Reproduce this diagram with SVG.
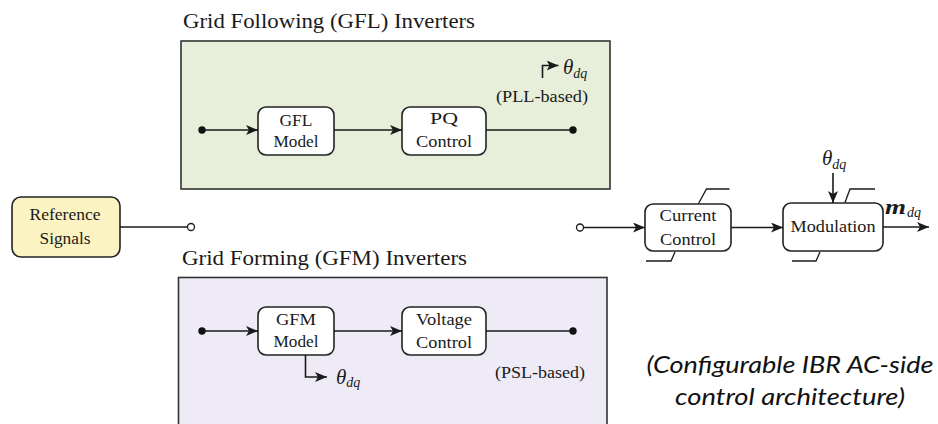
<svg xmlns="http://www.w3.org/2000/svg" width="938" height="424" viewBox="0 0 938 424">
  <style>
    .serif { font-family: "Liberation Serif", "Times New Roman", serif; fill: #1a1a1a; }
    .title { font-size: 21px; }
    .lbl { font-size: 17.5px; text-anchor: middle; }
    .note { font-size: 17px; }
    .math { font-family: "Liberation Serif", "Times New Roman", serif; font-style: italic; fill: #1a1a1a; font-size: 21px; }
    .sub { font-size: 14px; }
    .panel { stroke: #333333; stroke-width: 1.6; }
    .block { fill: #ffffff; stroke: #222222; stroke-width: 1.6; }
    .wire { fill: none; stroke: #1a1a1a; stroke-width: 1.6; }
    .thin { fill: none; stroke: #1a1a1a; stroke-width: 1.3; }
    .dot { fill: #111111; }
    .port { fill: #ffffff; stroke: #1a1a1a; stroke-width: 1.3; }
    .caption { font-family: Lato, "Open Sans", sans-serif; font-style: italic; font-size: 24px; fill: #111111; text-anchor: middle; }
  </style>
  <defs>
    <marker id="arrow" markerUnits="userSpaceOnUse" viewBox="0 0 12 10" refX="12" refY="5" markerWidth="12" markerHeight="10" orient="auto">
      <path d="M0,0 L12,5 L0,10 L3,5 Z" fill="#1a1a1a"/>
    </marker>
  </defs>

  <rect width="938" height="424" fill="#ffffff"/>

  <!-- Grid following panel -->
  <g id="gfl-panel">
    <text class="serif title" x="183" y="28" textLength="292" lengthAdjust="spacingAndGlyphs">Grid Following (GFL) Inverters</text>
    <rect class="panel" x="181" y="41" width="429" height="148" fill="#e7efda"/>
    <text class="serif note" x="496" y="102" textLength="92" lengthAdjust="spacingAndGlyphs">(PLL-based)</text>
  </g>

  <!-- Grid forming panel -->
  <g id="gfm-panel">
    <text class="serif title" x="182" y="265" textLength="285" lengthAdjust="spacingAndGlyphs">Grid Forming (GFM) Inverters</text>
    <rect class="panel" x="178.5" y="277.5" width="428.5" height="160" fill="#efebf6"/>
    <text class="serif note" x="495" y="378" textLength="90" lengthAdjust="spacingAndGlyphs">(PSL-based)</text>
  </g>

  <g id="reference-signals">
    <rect x="12" y="197" width="108" height="60" rx="9" fill="#fcf3c2" stroke="#222222" stroke-width="1.6"/>
    <text class="serif lbl" x="65" y="219.5" textLength="71" lengthAdjust="spacingAndGlyphs">Reference</text>
    <text class="serif lbl" x="65" y="243.5" textLength="51" lengthAdjust="spacingAndGlyphs">Signals</text>
  </g>

  <g id="gfl-model">
    <rect class="block" x="258" y="107" width="76" height="48" rx="8"/>
    <text class="serif lbl" x="296" y="125.5" textLength="33" lengthAdjust="spacingAndGlyphs">GFL</text>
    <text class="serif lbl" x="296" y="147" textLength="45" lengthAdjust="spacingAndGlyphs">Model</text>
  </g>

  <g id="pq-control">
    <rect class="block" x="402" y="107" width="84" height="48" rx="8"/>
    <text class="serif lbl" x="444" y="124" textLength="28" lengthAdjust="spacingAndGlyphs">PQ</text>
    <text class="serif lbl" x="444" y="147" textLength="56" lengthAdjust="spacingAndGlyphs">Control</text>
  </g>

  <g id="gfm-model">
    <rect class="block" x="258" y="307" width="76" height="48" rx="8"/>
    <text class="serif lbl" x="296" y="325" textLength="40" lengthAdjust="spacingAndGlyphs">GFM</text>
    <text class="serif lbl" x="296" y="346.5" textLength="45" lengthAdjust="spacingAndGlyphs">Model</text>
  </g>

  <g id="voltage-control">
    <rect class="block" x="402" y="307" width="84" height="48" rx="8"/>
    <text class="serif lbl" x="444" y="324.5" textLength="56" lengthAdjust="spacingAndGlyphs">Voltage</text>
    <text class="serif lbl" x="444" y="347.5" textLength="56" lengthAdjust="spacingAndGlyphs">Control</text>
  </g>

  <g id="current-control">
    <rect class="block" x="645" y="204" width="86" height="47" rx="8"/>
    <text class="serif lbl" x="688" y="221" textLength="57" lengthAdjust="spacingAndGlyphs">Current</text>
    <text class="serif lbl" x="688" y="244.5" textLength="56" lengthAdjust="spacingAndGlyphs">Control</text>
    <path class="thin" d="M698.5,203.5 L706.5,189 L729.5,189"/>
    <path class="thin" d="M646,261 L671,261 L675,252"/>
  </g>

  <g id="modulation">
    <rect class="block" x="783" y="203" width="100" height="48" rx="8"/>
    <text class="serif lbl" x="833" y="232" textLength="85" lengthAdjust="spacingAndGlyphs">Modulation</text>
    <path class="thin" d="M845,202.5 L850,189 L875,189"/>
    <path class="thin" d="M792,261 L816,261 L820,252"/>
  </g>

  <!-- signal symbols -->
  <g id="theta-gfl">
    <text class="math" x="563" y="74">θ<tspan class="sub" dy="3.5">dq</tspan></text>
  </g>
  <g id="theta-gfm">
    <text class="math" x="336" y="383.5">θ<tspan class="sub" dy="3.5">dq</tspan></text>
  </g>
  <g id="theta-mod">
    <text class="math" x="822" y="165">θ<tspan class="sub" dy="3.5">dq</tspan></text>
  </g>
  <g id="m-dq">
    <text class="math" x="885" y="213.5" font-weight="bold" font-size="21" textLength="21" lengthAdjust="spacingAndGlyphs">m</text>
    <text class="math sub" x="907" y="217">dq</text>
  </g>

  <g id="connectors">
    <!-- GFL chain -->
    <path class="wire" d="M202,130 L258,130" marker-end="url(#arrow)"/>
    <path class="wire" d="M334,130 L402,130" marker-end="url(#arrow)"/>
    <path class="wire" d="M486,130 L573,130"/>
    <path class="wire" d="M542.5,78 L542.5,65.5 L558.5,65.5" marker-end="url(#arrow)"/>
    <circle class="dot" cx="202" cy="130" r="3.7"/>
    <circle class="dot" cx="573" cy="130" r="3.7"/>

    <!-- GFM chain -->
    <path class="wire" d="M202,331 L258,331" marker-end="url(#arrow)"/>
    <path class="wire" d="M334,331 L402,331" marker-end="url(#arrow)"/>
    <path class="wire" d="M486,331 L573,331"/>
    <path class="wire" d="M305.5,355 L305.5,377 L327,377" marker-end="url(#arrow)"/>
    <circle class="dot" cx="202" cy="331" r="3.7"/>
    <circle class="dot" cx="573" cy="331" r="3.7"/>

    <!-- reference to selector terminal -->
    <path class="wire" d="M120,227 L187.5,227"/>
    <circle class="port" cx="191" cy="227" r="3.5"/>

    <!-- inner current loop and modulation -->
    <path class="wire" d="M583.5,227.5 L645,227.5" marker-end="url(#arrow)"/>
    <circle class="port" cx="580" cy="227.5" r="3.5"/>
    <path class="wire" d="M731,227.5 L783,227.5" marker-end="url(#arrow)"/>
    <path class="wire" d="M833,173 L833,203" marker-end="url(#arrow)"/>
    <path class="wire" d="M883,227 L929,227" marker-end="url(#arrow)"/>
  </g>

  <g id="caption">
    <text class="caption" x="790" y="373" textLength="287" lengthAdjust="spacingAndGlyphs">(Configurable IBR AC-side</text>
    <text class="caption" x="790" y="405" textLength="230" lengthAdjust="spacingAndGlyphs">control architecture)</text>
  </g>
</svg>
